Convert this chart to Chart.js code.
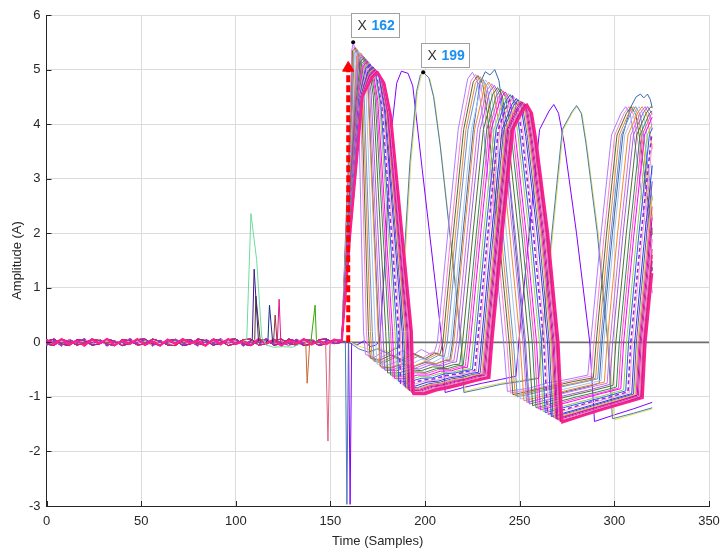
<!DOCTYPE html>
<html>
<head>
<meta charset="utf-8">
<script src="https://cdn.jsdelivr.net/npm/chart.js@4.4.0/dist/chart.umd.min.js"></script>
<style>
  html, body { margin: 0; padding: 0; background: #ffffff; }
  canvas { display: block; }
</style>
</head>
<body>
<canvas id="waveChart" width="720" height="552"></canvas>
<script>
// axis ranges
const xTickStart = 0, xTickEnd = 350, xTickStep = 50;
const yTickStart = -3, yTickEnd = 6, yTickStep = 1;

// flat part before the pulses (samples 0..156)
const baseX = [0,4,8,12,16,20,24,28,32,36,40,44,48,52,56,60,64,68,72,76,80,84,88,92,96,100,104,108,112,116,120,124,128,132,136,140,144,148,152,156];
const noiseA = [0.05,-0.03,0.06,-0.04,0.03,-0.06,0.05,-0.02,0.06,-0.05,0.03,-0.03,0.06,-0.05,0.02,-0.06,0.05,-0.03,0.06,-0.02,0.03,-0.06,0.05,-0.04,0.06,-0.03,0.02,-0.05,0.06,-0.03,0.05,-0.06,0.03,-0.02,0.06,-0.04,0.03,-0.03,0.05,0.02];
const noiseB = [-0.05,0.03,-0.06,0.05,-0.02,0.06,-0.03,0.05,-0.06,0.03,-0.05,0.06,-0.02,0.05,-0.06,0.03,-0.03,0.06,-0.04,0.02,-0.06,0.05,-0.03,0.06,-0.02,0.05,-0.06,0.03,-0.04,0.06,-0.03,0.02,-0.06,0.05,-0.03,0.06,-0.05,0.03,-0.02,0.03];
const noiseC = [0.02,0.06,-0.03,-0.06,0.05,0.03,-0.05,-0.03,0.06,0.02,-0.06,-0.02,0.05,0.06,-0.03,-0.05,0.03,0.05,-0.06,-0.03,0.06,0.03,-0.05,-0.02,0.05,0.06,-0.03,-0.06,0.03,0.05,-0.05,-0.03,0.06,0.02,-0.06,-0.03,0.05,0.06,-0.02,0.0];
const noiseD = [-0.03,-0.06,0.05,0.02,-0.05,-0.02,0.06,0.03,-0.03,-0.06,0.05,0.03,-0.05,-0.03,0.06,0.02,-0.05,-0.06,0.03,0.05,-0.03,-0.05,0.06,0.03,-0.06,-0.02,0.05,0.06,-0.05,-0.03,0.03,0.06,-0.02,-0.05,0.05,0.03,-0.06,-0.02,0.03,0.04];

// pulse trains, [sample, amplitude] vertices (narrow first pulse -> wide)
const wave01 = [[158.5,2.5],[160.5,4.3],[161.3,5.35],[162,5.5],[163.5,5.3],[164.5,4.85],[167.5,0.2],[168.5,-0.22],[173,-0.28],[178,-0.16],[183,-0.27],[188,-0.15],[193,-0.25],[198,-0.13],[203,-0.22],[205,-0.17],[206.5,0],[212,2.0],[217.5,3.9],[222.5,4.83],[225,4.95],[227.5,4.8],[230,4.25],[236,2.0],[241.5,0],[243.5,-0.9],[255,-0.84],[265,-0.74],[275,-0.68],[286,-0.6],[287.5,0],[293,2.0],[298.5,3.8],[303.5,4.2],[306,4.32],[308.5,4.17],[311,3.62],[317,2.0],[320,0.9]];
const wave02 = [[158.6,2.47],[160.9,4.31],[161.2,5.36],[162.8,5.42],[164.4,5.27],[165.6,4.81],[169,0.2],[170,-0.26],[175,-0.31],[181,-0.2],[187,-0.3],[193,-0.19],[199,-0.28],[204,-0.18],[206.7,-0.2],[208.2,0],[213.7,2.0],[219.2,3.9],[224.2,4.79],[226.7,4.91],[229.2,4.76],[231.7,4.21],[237.7,2.0],[243.2,0],[245.2,-0.93],[257,-0.86],[267,-0.78],[277,-0.7],[287.7,-0.62],[289.2,0],[294.7,2.0],[300.2,3.8],[305.2,4.2],[307.7,4.32],[310.2,4.17],[312.7,3.62],[318.7,2.0],[320,1.53]];
const wave03 = [[158.7,2.45],[161.2,4.32],[161.65,5.34],[163.3,5.4],[165,5.24],[166.25,4.78],[170.05,0.2],[171.05,-0.29],[176,-0.33],[182,-0.23],[188,-0.32],[194,-0.21],[200,-0.3],[205,-0.2],[207.9,-0.22],[209.4,0],[214.9,2.0],[220.4,3.9],[225.4,4.77],[227.9,4.89],[230.4,4.74],[232.9,4.19],[238.9,2.0],[244.4,0],[246.4,-0.96],[257,-0.88],[268,-0.8],[278,-0.72],[288.9,-0.65],[290.4,0],[295.9,2.0],[301.4,3.8],[306.4,4.2],[308.9,4.32],[311.4,4.17],[313.9,3.62],[320,1.97]];
const wave04 = [[158.8,2.43],[161.4,4.33],[162.1,5.32],[163.8,5.38],[165.6,5.22],[166.9,4.75],[171.1,0.2],[172.1,-0.32],[177,-0.36],[183,-0.26],[189,-0.34],[195,-0.24],[201,-0.31],[206,-0.22],[209.1,-0.24],[210.6,0],[216.1,2.0],[221.6,3.9],[226.6,4.75],[229.1,4.87],[231.6,4.72],[234.1,4.17],[240.1,2.0],[245.6,0],[247.6,-0.98],[258,-0.9],[269,-0.82],[280,-0.74],[290.1,-0.66],[291.6,0],[297.1,2.0],[302.6,3.8],[307.6,4.2],[310.1,4.32],[312.6,4.17],[315.1,3.62],[320,2.3]];
const wave05 = [[158.9,2.41],[161.7,4.34],[162.5,5.3],[164.3,5.36],[166.2,5.2],[167.6,4.72],[172.1,0.2],[173.1,-0.35],[178,-0.38],[184,-0.28],[190,-0.36],[196,-0.26],[202,-0.33],[207,-0.24],[210.2,-0.26],[211.7,0],[217.2,2.0],[222.7,3.9],[227.7,4.72],[230.2,4.84],[232.7,4.69],[235.2,4.14],[241.2,2.0],[246.7,0],[248.7,-1.0],[259,-0.92],[270,-0.83],[281,-0.75],[291.2,-0.67],[292.7,0],[298.2,2.0],[303.7,3.8],[308.7,4.2],[311.2,4.32],[313.7,4.17],[316.2,3.62],[320,2.6]];
const wave06 = [[159.0,2.38],[162.1,4.35],[163.2,5.27],[165.1,5.33],[167.1,5.17],[168.7,4.68],[173.6,0.2],[174.6,-0.4],[180,-0.42],[186,-0.34],[192,-0.41],[198,-0.31],[204,-0.37],[209,-0.28],[212,-0.29],[213.5,0],[219,2.0],[224.5,3.9],[229.5,4.69],[232,4.81],[234.5,4.66],[237,4.11],[243,2.0],[248.5,0],[250.5,-1.04],[261,-0.96],[272,-0.87],[283,-0.78],[293,-0.7],[294.5,0],[300,2.0],[305.5,3.8],[310.5,4.2],[313,4.32],[315.5,4.17],[318,3.62],[320,3.08]];
const wave07 = [[159.1,2.35],[162.45,4.36],[163.95,5.24],[165.9,5.3],[168,5.14],[169.75,4.64],[175.15,0.2],[176.15,-0.44],[182,-0.46],[188,-0.39],[194,-0.44],[200,-0.35],[206,-0.39],[211,-0.32],[213.7,-0.32],[215.2,0],[220.7,2.0],[226.2,3.9],[231.2,4.65],[233.7,4.77],[236.2,4.62],[238.7,4.07],[244.7,2.0],[250.2,0],[252.2,-1.07],[263,-0.98],[274,-0.89],[285,-0.8],[294.7,-0.73],[296.2,0],[301.7,2.0],[307.2,3.8],[312.2,4.2],[314.7,4.32],[317.2,4.17],[320,3.54]];
const wave08 = [[159.2,2.33],[162.8,4.37],[164.6,5.21],[166.6,5.28],[168.8,5.11],[170.7,4.61],[176.4,0.2],[177.4,-0.48],[183,-0.5],[189,-0.43],[195,-0.47],[201,-0.39],[207,-0.42],[212,-0.35],[215.2,-0.34],[216.7,0],[222.2,2.0],[227.7,3.9],[232.7,4.62],[235.2,4.74],[237.7,4.59],[240.2,4.04],[246.2,2.0],[251.7,0],[253.7,-1.1],[264,-1.01],[275,-0.92],[286,-0.83],[296.2,-0.75],[297.7,0],[303.2,2.0],[308.7,3.8],[313.7,4.2],[316.2,4.32],[318.7,4.17],[320,3.9]];
const wave09 = [[159.3,2.3],[163.1,4.38],[165.1,5.18],[167.2,5.25],[169.5,5.08],[171.5,4.57],[177.7,0.2],[178.7,-0.51],[185,-0.52],[191,-0.46],[197,-0.49],[203,-0.41],[209,-0.43],[214,-0.37],[216.6,-0.36],[218.1,0],[223.6,2.0],[229.1,3.9],[234.1,4.59],[236.6,4.71],[239.1,4.56],[241.6,4.01],[247.6,2.0],[253.1,0],[255.1,-1.13],[266,-1.04],[277,-0.95],[288,-0.86],[297.6,-0.77],[299.1,0],[304.6,2.0],[310.1,3.8],[315.1,4.2],[317.6,4.32],[320,4.18]];
const wave10 = [[159.4,2.27],[163.5,4.39],[165.8,5.15],[168,5.22],[170.4,5.05],[172.6,4.53],[179.2,0.2],[180.2,-0.56],[186,-0.56],[192,-0.5],[198,-0.52],[204,-0.45],[210,-0.46],[215,-0.41],[218.3,-0.4],[219.8,0],[225.3,2.0],[230.8,3.9],[235.8,4.55],[238.3,4.67],[240.8,4.52],[243.3,3.97],[249.3,2.0],[254.8,0],[256.8,-1.16],[267,-1.07],[278,-0.97],[289,-0.88],[299.3,-0.79],[300.8,0],[306.3,2.0],[311.8,3.8],[316.8,4.2],[319.3,4.32],[320,4.3]];
const wave11 = [[159.5,2.24],[163.9,4.4],[166.5,5.11],[168.8,5.19],[171.3,5.01],[173.6,4.49],[180.8,0.2],[181.8,-0.6],[188,-0.6],[194,-0.54],[200,-0.55],[206,-0.48],[212,-0.48],[217,-0.43],[220.1,-0.42],[221.6,0],[227.1,2.0],[232.6,3.9],[237.6,4.52],[240.1,4.64],[242.6,4.49],[245.1,3.94],[251.1,2.0],[256.6,0],[258.6,-1.2],[269,-1.1],[280,-1.0],[291,-0.91],[301.1,-0.82],[302.6,0],[308.1,2.0],[313.6,3.8],[318.6,4.2],[320,4.24]];
const wave12 = [[159.6,2.22],[164.1,4.41],[166.9,5.09],[169.3,5.17],[171.9,4.99],[174.3,4.46],[181.8,0.2],[182.8,-0.63],[189,-0.63],[195,-0.56],[201,-0.57],[207,-0.5],[213,-0.5],[218,-0.45],[221.2,-0.44],[222.7,0],[228.2,2.0],[233.7,3.9],[238.7,4.49],[241.2,4.61],[243.7,4.46],[246.2,3.91],[252.2,2.0],[257.7,0],[259.7,-1.22],[270,-1.12],[281,-1.02],[292,-0.93],[302.2,-0.84],[303.7,0],[309.2,2.0],[314.7,3.8],[319.7,4.2],[320,4.21]];
const wave13 = [[159.7,2.2],[164.4,4.42],[167.4,5.07],[169.8,5.15],[172.5,4.97],[175,4.43],[182.8,0.2],[183.8,-0.66],[190,-0.66],[196,-0.6],[202,-0.6],[208,-0.53],[214,-0.52],[219,-0.47],[222.4,-0.46],[223.9,0],[229.4,2.0],[234.9,3.9],[239.9,4.47],[242.4,4.59],[244.9,4.44],[247.4,3.89],[253.4,2.0],[258.9,0],[260.9,-1.24],[271,-1.14],[282,-1.04],[293,-0.94],[303.4,-0.85],[304.9,0],[310.4,2.0],[315.9,3.8],[320,4.13]];
const wave14 = [[159.8,2.18],[164.7,4.43],[168.0,5.05],[170.5,5.13],[173.3,4.95],[175.9,4.4],[184.1,0.2],[185.1,-0.69],[191,-0.69],[197,-0.63],[203,-0.62],[209,-0.56],[215,-0.54],[220,-0.5],[223.9,-0.48],[225.4,0],[230.9,2.0],[236.4,3.9],[241.4,4.44],[243.9,4.56],[246.4,4.41],[248.9,3.86],[254.9,2.0],[260.4,0],[262.4,-1.27],[273,-1.17],[284,-1.07],[295,-0.97],[304.9,-0.87],[306.4,0],[311.9,2.0],[317.4,3.8],[320,4.0]];
const wave15 = [[159.9,2.16],[165,4.44],[168.5,5.02],[171,5.1],[173.9,4.92],[176.6,4.37],[185.1,0.2],[186.1,-0.72],[192,-0.72],[198,-0.66],[204,-0.65],[210,-0.58],[216,-0.56],[221,-0.52],[225,-0.5],[226.5,0],[232,2.0],[237.5,3.9],[242.5,4.42],[245,4.54],[247.5,4.39],[250,3.84],[256,2.0],[261.5,0],[263.5,-1.29],[274,-1.19],[285,-1.09],[296,-0.99],[306,-0.89],[307.5,0],[313,2.0],[318.5,3.8],[320,3.92]];
const wave16 = [[160.0,2.14],[165.2,4.45],[168.9,5.01],[171.5,5.09],[174.5,4.9],[177.3,4.34],[186.1,0.2],[187.1,-0.75],[193,-0.75],[199,-0.69],[205,-0.67],[211,-0.61],[217,-0.58],[222,-0.54],[226.2,-0.52],[227.7,0],[233.2,2.0],[238.7,3.9],[243.7,4.39],[246.2,4.51],[248.7,4.36],[251.2,3.81],[257.2,2.0],[262.7,0],[264.7,-1.32],[275,-1.22],[286,-1.11],[297,-1.01],[307.2,-0.91],[308.7,0],[314.2,2.0],[319.7,3.8],[320,3.82]];
const wave17 = [[160.0,2.12],[165.4,4.45],[169.2,4.99],[171.9,5.07],[175.0,4.88],[177.8,4.32],[186.9,0.2],[187.9,-0.77],[194,-0.77],[200,-0.71],[206,-0.69],[212,-0.63],[218,-0.6],[223,-0.55],[227,-0.53],[228.5,0],[234,2.0],[239.5,3.9],[244.5,4.37],[247,4.49],[249.5,4.34],[252,3.79],[258,2.0],[263.5,0],[265.5,-1.33],[276,-1.23],[287,-1.12],[298,-1.02],[308,-0.92],[309.5,0],[315,2.0],[320,3.64]];
const wave18 = [[160.1,2.1],[165.7,4.46],[169.7,4.96],[172.4,5.05],[175.7,4.86],[178.5,4.29],[187.9,0.2],[188.9,-0.8],[195,-0.8],[201,-0.73],[207,-0.71],[213,-0.65],[219,-0.62],[224,-0.57],[228.2,-0.55],[229.7,0],[235.2,2.0],[240.7,3.9],[245.7,4.35],[248.2,4.47],[250.7,4.32],[253.2,3.77],[259.2,2.0],[264.7,0],[266.7,-1.36],[277,-1.26],[288,-1.15],[299,-1.04],[309.2,-0.94],[310.7,0],[316.2,2.0],[320,3.24]];
const wave19 = [[160.2,2.09],[165.9,4.47],[170.0,4.95],[172.8,5.04],[176.0,4.85],[179.0,4.27],[188.7,0.2],[189.7,-0.83],[196,-0.83],[202,-0.76],[208,-0.73],[214,-0.67],[220,-0.64],[225,-0.59],[229.1,-0.57],[230.6,0],[236.1,2.0],[241.6,3.9],[246.6,4.33],[249.1,4.45],[251.6,4.3],[254.1,3.75],[260.1,2.0],[265.6,0],[267.6,-1.37],[278,-1.27],[289,-1.16],[300,-1.05],[310.1,-0.95],[311.6,0],[317.1,2.0],[320,2.95]];
const wave20 = [[160.2,2.07],[166.1,4.47],[170.4,4.93],[173.2,5.02],[176.9,4.83],[179.6,4.25],[189.4,0.2],[190.4,-0.85],[196,-0.85],[202,-0.78],[208,-0.75],[214,-0.69],[220,-0.66],[226,-0.6],[229.9,-0.59],[231.4,0],[236.9,2.0],[242.4,3.9],[247.4,4.31],[249.9,4.43],[252.4,4.28],[254.9,3.73],[260.9,2.0],[266.4,0],[268.4,-1.39],[279,-1.28],[290,-1.17],[301,-1.06],[310.9,-0.96],[312.4,0],[317.9,2.0],[320,2.69]];
const wave21 = [[160.3,2.06],[166.2,4.48],[170.6,4.92],[173.4,5.01],[176.7,4.82],[179.9,4.23],[189.9,0.2],[190.9,-0.86],[197,-0.86],[203,-0.79],[209,-0.76],[215,-0.7],[221,-0.67],[227,-0.61],[230.5,-0.59],[232,0],[237.5,2.0],[243,3.9],[248,4.3],[250.5,4.42],[253,4.27],[255.5,3.72],[261.5,2.0],[267,0],[269,-1.4],[280,-1.29],[291,-1.18],[302,-1.07],[311.5,-0.97],[313,0],[318.5,2.0],[320,2.49]];
const wave22 = [[160.3,2.05],[166.4,4.48],[170.9,4.91],[173.7,5.0],[177.5,4.81],[180.3,4.22],[190.5,0.2],[191.5,-0.88],[197,-0.88],[203,-0.81],[209,-0.78],[215,-0.72],[221,-0.68],[227,-0.62],[231.1,-0.6],[232.6,0],[238.1,2.0],[243.6,3.9],[248.6,4.29],[251.1,4.41],[253.6,4.26],[256.1,3.71],[262.1,2.0],[267.6,0],[269.6,-1.41],[280,-1.3],[291,-1.19],[302,-1.08],[312.1,-0.97],[313.6,0],[319.1,2.0],[320,2.29]];
const wave23 = [[160.3,2.04],[166.5,4.48],[171.1,4.89],[174,4.99],[177.3,4.79],[180.6,4.21],[191,0.2],[192,-0.89],[198,-0.89],[204,-0.82],[210,-0.79],[216,-0.73],[222,-0.69],[228,-0.63],[231.7,-0.61],[233.2,0],[238.7,2.0],[244.2,3.9],[249.2,4.28],[251.7,4.4],[254.2,4.25],[256.7,3.7],[262.7,2.0],[268.2,0],[270.2,-1.42],[281,-1.31],[292,-1.2],[303,-1.09],[312.7,-0.98],[314.2,0],[319.7,2.0],[320,2.1]];
const wave24 = [[160.4,2.03],[166.6,4.49],[171.3,4.89],[174.2,4.98],[177.6,4.79],[180.9,4.19],[191.5,0.2],[192.5,-0.91],[198,-0.91],[204,-0.84],[210,-0.8],[216,-0.75],[222,-0.7],[228,-0.65],[232.3,-0.63],[233.8,0],[239.3,2.0],[244.8,3.9],[249.8,4.27],[252.3,4.39],[254.8,4.24],[257.3,3.69],[263.3,2.0],[268.8,0],[270.8,-1.44],[281,-1.33],[292,-1.21],[303,-1.1],[313.3,-0.99],[314.8,0],[320,1.89]];
const wave25 = [[160.4,2.02],[166.7,4.49],[171.6,4.87],[174.5,4.97],[177.9,4.77],[181.3,4.18],[192,0.2],[193,-0.92],[199,-0.92],[205,-0.85],[211,-0.81],[217,-0.76],[223,-0.71],[229,-0.66],[232.8,-0.63],[234.3,0],[239.8,2.0],[245.3,3.9],[250.3,4.25],[252.8,4.37],[255.3,4.22],[257.8,3.67],[263.8,2.0],[269.3,0],[271.3,-1.45],[282,-1.34],[293,-1.22],[304,-1.11],[313.8,-1.0],[315.3,0],[320,1.71]];
const wave26 = [[160.4,2.02],[166.8,4.49],[171.6,4.87],[174.6,4.97],[178.0,4.77],[181.5,4.18],[192.2,0.2],[193.2,-0.93],[199,-0.93],[205,-0.86],[211,-0.82],[217,-0.77],[223,-0.72],[229,-0.67],[233.1,-0.64],[234.6,0],[240.1,2.0],[245.6,3.9],[250.6,4.25],[253.1,4.37],[255.6,4.22],[258.1,3.67],[264.1,2.0],[269.6,0],[271.6,-1.45],[282,-1.34],[293,-1.22],[304,-1.11],[314.1,-1.0],[315.6,0],[320,1.6]];
const wave27 = [[160.5,2.01],[166.9,4.5],[171.7,4.86],[174.7,4.96],[178.2,4.76],[181.6,4.16],[192.5,0.2],[193.5,-0.94],[199.5,-0.94],[205.5,-0.87],[211.5,-0.83],[217.5,-0.78],[223.5,-0.73],[229.5,-0.67],[233.4,-0.64],[234.9,0],[240.4,2.0],[245.9,3.9],[250.9,4.24],[253.4,4.36],[255.9,4.21],[258.4,3.66],[264.4,2.0],[269.9,0],[271.9,-1.46],[283,-1.34],[294,-1.22],[305,-1.11],[314.4,-1.0],[315.9,0],[320,1.49]];
const wave28 = [[160.5,2.0],[166.9,4.5],[171.9,4.86],[174.9,4.96],[178.4,4.76],[181.8,4.16],[192.7,0.2],[193.7,-0.94],[200,-0.94],[206,-0.87],[212,-0.83],[218,-0.78],[224,-0.73],[230,-0.67],[233.7,-0.64],[235.2,0],[240.7,2.0],[246.2,3.9],[251.2,4.24],[253.7,4.36],[256.2,4.21],[258.7,3.66],[264.7,2.0],[270.2,0],[272.2,-1.46],[283,-1.34],[294,-1.22],[305,-1.11],[314.7,-1.0],[316.2,0],[320,1.38]];
const wave29 = [[160.5,2.0],[167,4.5],[172,4.85],[175,4.95],[178.5,4.75],[182,4.15],[193,0.2],[194,-0.95],[200,-0.95],[206,-0.88],[212,-0.84],[218,-0.79],[224,-0.73],[230,-0.68],[234,-0.65],[235.5,0],[241,2.0],[246.5,3.9],[251.5,4.23],[254,4.35],[256.5,4.2],[259,3.65],[265,2.0],[270.5,0],[272.5,-1.47],[283,-1.35],[294,-1.23],[305,-1.12],[315,-1.02],[316.5,0],[320,1.27]];

// odd traces
const waveViolet = [[159.6,0.0],[160.4,-2.97],[161.2,0.0],[164,-0.05],[168,0.03],[171,-0.08],[174,-0.05],[176,0.02],[179,1.6],[182,3.8],[185,4.75],[187.5,4.97],[191,4.93],[193.5,4.7],[198.5,3.17],[209,0],[210.6,-0.92],[220,-0.83],[230,-0.75],[240,-0.68],[248,-0.62],[249.5,0],[255,2.0],[260.5,3.9],[265.5,4.24],[268,4.36],[270.5,4.2],[273.5,3.65],[280,2.0],[287,0],[289.5,-1.45],[300,-1.33],[310,-1.22],[320,-1.1]];
const waveSteel = [[157.9,0.0],[158.7,-2.97],[159.5,0.0],[162,-0.05],[165,-0.12],[170,-0.18],[175,-0.12],[180,-0.2],[184,-0.12],[186,-0.1],[188.5,1.3],[192,3.3],[195.5,4.6],[197.5,4.9],[199,4.95],[202,4.85],[204.5,4.5],[208,3.6],[214,1.7],[219,0],[220.5,-0.92],[230,-0.85],[240,-0.77],[250,-0.72],[260,-0.66],[261.5,0],[267,2.0],[272.5,3.9],[277.5,4.22],[280,4.34],[282.5,4.2],[285,3.65],[291,2.0],[296.5,0],[299,-1.4],[310,-1.3],[320,-1.2]];
const waveYellow = [[160,0.02],[164,-0.06],[168,-0.1],[172,-0.16],[176,-0.1],[180,-0.17],[184,-0.1],[186.5,-0.08],[189,1.3],[192.5,3.3],[196,4.6],[198,4.88],[199.5,4.93],[202.5,4.83],[205,4.45],[208.5,3.5],[214.5,1.6],[219.5,0],[221,-0.9],[230,-0.82],[240,-0.75],[250,-0.7],[260.5,-0.64],[262,0],[267.5,2.0],[273,3.9],[278,4.22],[280.5,4.33],[283,4.18],[285.5,3.6],[291.5,2.0],[297,0],[300,-1.42],[310,-1.32],[320,-1.22]];
const waveNotch = [[159.1,2.35],[162.5,4.36],[164,5.23],[166,5.3],[168,5.13],[170,4.63],[175.5,0.2],[176.5,-0.45],[182,-0.47],[188,-0.4],[194,-0.44],[200,-0.37],[206,-0.39],[211,-0.33],[213,-0.33],[214.5,0],[220,2.0],[225.5,3.9],[229,4.75],[231.8,4.96],[234.3,4.9],[236.8,5.0],[239,4.8],[241,4.3],[247,2.0],[252.5,0],[254.5,-1.1],[265,-1.0],[275,-0.9],[285,-0.82],[292,-0.75],[293.5,0],[299,2.0],[304.5,3.8],[308.5,4.3],[311.5,4.5],[313.8,4.55],[315.5,4.48],[317.5,4.55],[319,4.45],[320,4.3]];

// short glitches before the main pulse
const spikeMint = [[104,0.02],[105.8,0.05],[108,2.36],[111,1.52],[113.7,0.1],[116,-0.05],[120,-0.09],[125,-0.08],[130,-0.09],[134,-0.03]];
const spikeIndigo = [[107.5,0.02],[108.7,0.05],[109.7,1.34],[112,0.02]];
const spikeBrown = [[109,0.0],[110,0.05],[110.6,0.85],[113,0.0]];
const spikeNavy = [[116,0.0],[117,0.05],[117.8,0.68],[119.5,0.0]];
const spikeMaroon = [[119.5,0.0],[120,0.04],[120.8,0.5],[121.8,0.0]];
const spikeMagenta = [[121.2,0.0],[122,0.05],[122.9,0.79],[123.8,0.0]];
const spikeGreen = [[139,0.0],[139.8,0.05],[141.9,0.68],[142.6,0.05],[143.5,0.0]];
const spikeOrange = [[136,0.0],[137,-0.05],[137.7,-0.75],[139,-0.04],[140,0.0]];
const spikeRose = [[146.5,0.0],[147.5,-0.05],[148.7,-1.81],[149.7,-0.05],[150.5,0.0]];

const zeroLine = [[0,0],[350,0]];
const arrowLine = [[159.4,0],[159.4,5.03]];

// data tips shown on the plot
const tipPoints = [[162,5.5],[199,4.95]];

function withBase(noise, wave) {
    return baseX.map((x, i) => [x, noise[i]]).concat(wave);
}

function trace(data, color, width, dash) {
    return {
        data: data,
        borderColor: color,
        borderWidth: width || 1,
        borderDash: dash || [],
        pointRadius: 0,
        fill: false
    };
}

const datasets = [
    {
        data: arrowLine,
        borderColor: '#ff0000',
        borderWidth: 4,
        borderDash: [7, 3],
        borderCapStyle: 'butt',
        pointRadius: [0, 6.5],
        pointStyle: 'triangle',
        pointBackgroundColor: '#ff0000',
        pointBorderColor: '#ff0000',
        pointBorderWidth: 1
    },
    trace(spikeMint, '#6fdc9a'),
    trace(spikeIndigo, '#3a1a8a'),
    trace(spikeBrown, '#5c3b2e'),
    trace(spikeNavy, '#1a2a8a'),
    trace(spikeMaroon, '#8b3a3a'),
    trace(spikeMagenta, '#e0158a'),
    trace(spikeGreen, '#33aa00'),
    trace(spikeOrange, '#cc6633'),
    trace(spikeRose, '#e06080'),
    trace(withBase(noiseA, wave29), '#ff1f8f', 2.2),
    trace(withBase(noiseB, wave28), '#9933cc', 1.6, [4, 3]),
    trace(withBase(noiseC, wave27), '#c71585'),
    trace(withBase(noiseD, wave26), '#e0245e'),
    trace(withBase(noiseA, wave25), '#e8408c'),
    trace(withBase(noiseB, wave24), '#ff66cc'),
    trace(withBase(noiseC, wave23), '#b03090'),
    trace(withBase(noiseD, wave22), '#cc00aa'),
    trace(withBase(noiseA, wave21), '#ff3399'),
    trace(withBase(noiseB, wave20), '#b5cc3a'),
    trace(withBase(noiseC, wave19), '#7b3fbf'),
    trace(withBase(noiseD, wave18), '#1f3fe0'),
    trace(withBase(noiseA, wave17), '#ff99cc'),
    trace(withBase(noiseB, wave16), '#8a2be2', 1.6, [4, 3]),
    trace(withBase(noiseC, wave15), '#3355ee'),
    trace(withBase(noiseD, wave14), '#8fd14f'),
    trace(withBase(noiseA, wave13), '#ff00ff'),
    trace(withBase(noiseB, wave12), '#ff4fb8'),
    trace(withBase(noiseC, wave11), '#2e8b57'),
    trace(withBase(noiseD, wave10), '#4f6f2f'),
    trace(withBase(noiseA, wave09), '#9f5fdf'),
    trace(withBase(noiseB, wave08), '#d070e0'),
    trace(withBase(noiseC, wave07), '#f08a30'),
    trace(withBase(noiseD, wave06), '#a9c4ec'),
    trace(withBase(noiseA, wave05), '#6a8fd0'),
    trace(withBase(noiseB, wave04), '#e8893a'),
    trace(withBase(noiseC, wave03), '#556b2f'),
    trace(withBase(noiseD, wave02), '#ff7fd4'),
    trace(withBase(noiseA, wave01), '#b07cff'),
    trace(withBase(noiseB, waveNotch), '#3a68b0'),
    trace(withBase(noiseC, waveSteel), '#4a7ab5'),
    trace(withBase(noiseD, waveYellow), '#e6df5a'),
    trace(withBase(noiseA, waveViolet), '#8000ff'),
    trace(zeroLine, '#6e6e6e', 1.8)
];

// MATLAB style tick marks pointing into the axes
const innerTicks = {
    id: 'innerTicks',
    afterDraw(chart) {
        const ctx = chart.ctx;
        const area = chart.chartArea;
        const xs = chart.scales.x, ys = chart.scales.y;
        ctx.save();
        ctx.strokeStyle = '#262626';
        ctx.lineWidth = 1;
        ctx.beginPath();
        xs.ticks.forEach(t => {
            const px = Math.round(xs.getPixelForValue(t.value)) + 0.5;
            ctx.moveTo(px, area.bottom);
            ctx.lineTo(px, area.bottom - 5);
        });
        ys.ticks.forEach(t => {
            const py = Math.round(ys.getPixelForValue(t.value)) + 0.5;
            ctx.moveTo(area.left, py);
            ctx.lineTo(area.left + 5, py);
        });
        ctx.stroke();
        ctx.restore();
    }
};

// little data tip boxes ("X 162")
const dataTips = {
    id: 'dataTips',
    afterDatasetsDraw(chart) {
        const ctx = chart.ctx;
        const xs = chart.scales.x, ys = chart.scales.y;
        ctx.save();
        tipPoints.forEach(p => {
            const px = xs.getPixelForValue(p[0]);
            const py = ys.getPixelForValue(p[1]);
            const bx = Math.round(px) - 1.5, by = Math.round(py) - 28.5;
            const bw = 48, bh = 24;
            ctx.fillStyle = 'rgba(255,255,255,0.92)';
            ctx.fillRect(bx, by, bw, bh);
            ctx.strokeStyle = '#a0a0a0';
            ctx.lineWidth = 1;
            ctx.strokeRect(bx, by, bw, bh);
            ctx.textBaseline = 'middle';
            ctx.textAlign = 'left';
            ctx.fillStyle = '#333333';
            ctx.font = '14px "Liberation Sans", Arial, sans-serif';
            ctx.fillText('X', bx + 6, by + bh / 2 + 0.5);
            ctx.fillStyle = '#1a90f0';
            ctx.font = 'bold 14px "Liberation Sans", Arial, sans-serif';
            ctx.fillText(String(p[0]), bx + 20, by + bh / 2 + 0.5);
            ctx.fillStyle = '#000000';
            ctx.beginPath();
            ctx.arc(px, py, 2, 0, Math.PI * 2);
            ctx.fill();
        });
        ctx.restore();
    }
};

Chart.defaults.font.family = '"Liberation Sans", Arial, sans-serif';
Chart.defaults.color = '#262626';

new Chart(document.getElementById('waveChart'), {
    type: 'line',
    data: { datasets: datasets },
    options: {
        responsive: false,
        animation: false,
        devicePixelRatio: 1,
        layout: { padding: { top: 15, right: 11, left: 0, bottom: 0 } },
        elements: { line: { tension: 0 }, point: { radius: 0 } },
        plugins: { legend: { display: false }, tooltip: { enabled: false } },
        scales: {
            x: {
                type: 'linear',
                min: xTickStart,
                max: xTickEnd,
                ticks: { stepSize: xTickStep, padding: 8, maxRotation: 0, color: '#262626', font: { size: 13 } },
                grid: { color: '#dcdcdc', drawTicks: false },
                border: { color: '#262626', width: 1 },
                title: { display: true, text: 'Time (Samples)', color: '#262626', font: { size: 13 }, padding: { top: 2, bottom: 2.5 } },
                afterFit: scale => {
                    scale.height = 46;
                    // let the last label hang into the right margin like the original
                    scale.paddingLeft = 0;
                    scale.paddingRight = 0;
                }
            },
            y: {
                min: yTickStart,
                max: yTickEnd,
                ticks: { stepSize: yTickStep, padding: 6, color: '#262626', font: { size: 13 } },
                grid: { color: '#dcdcdc', drawTicks: false },
                border: { color: '#262626', width: 1 },
                title: { display: true, text: 'Amplitude (A)', color: '#262626', font: { size: 13 }, padding: { top: 10, bottom: 2 } },
                afterFit: scale => { scale.width = 46.5; }
            }
        }
    },
    plugins: [innerTicks, dataTips]
});
</script>
</body>
</html>
